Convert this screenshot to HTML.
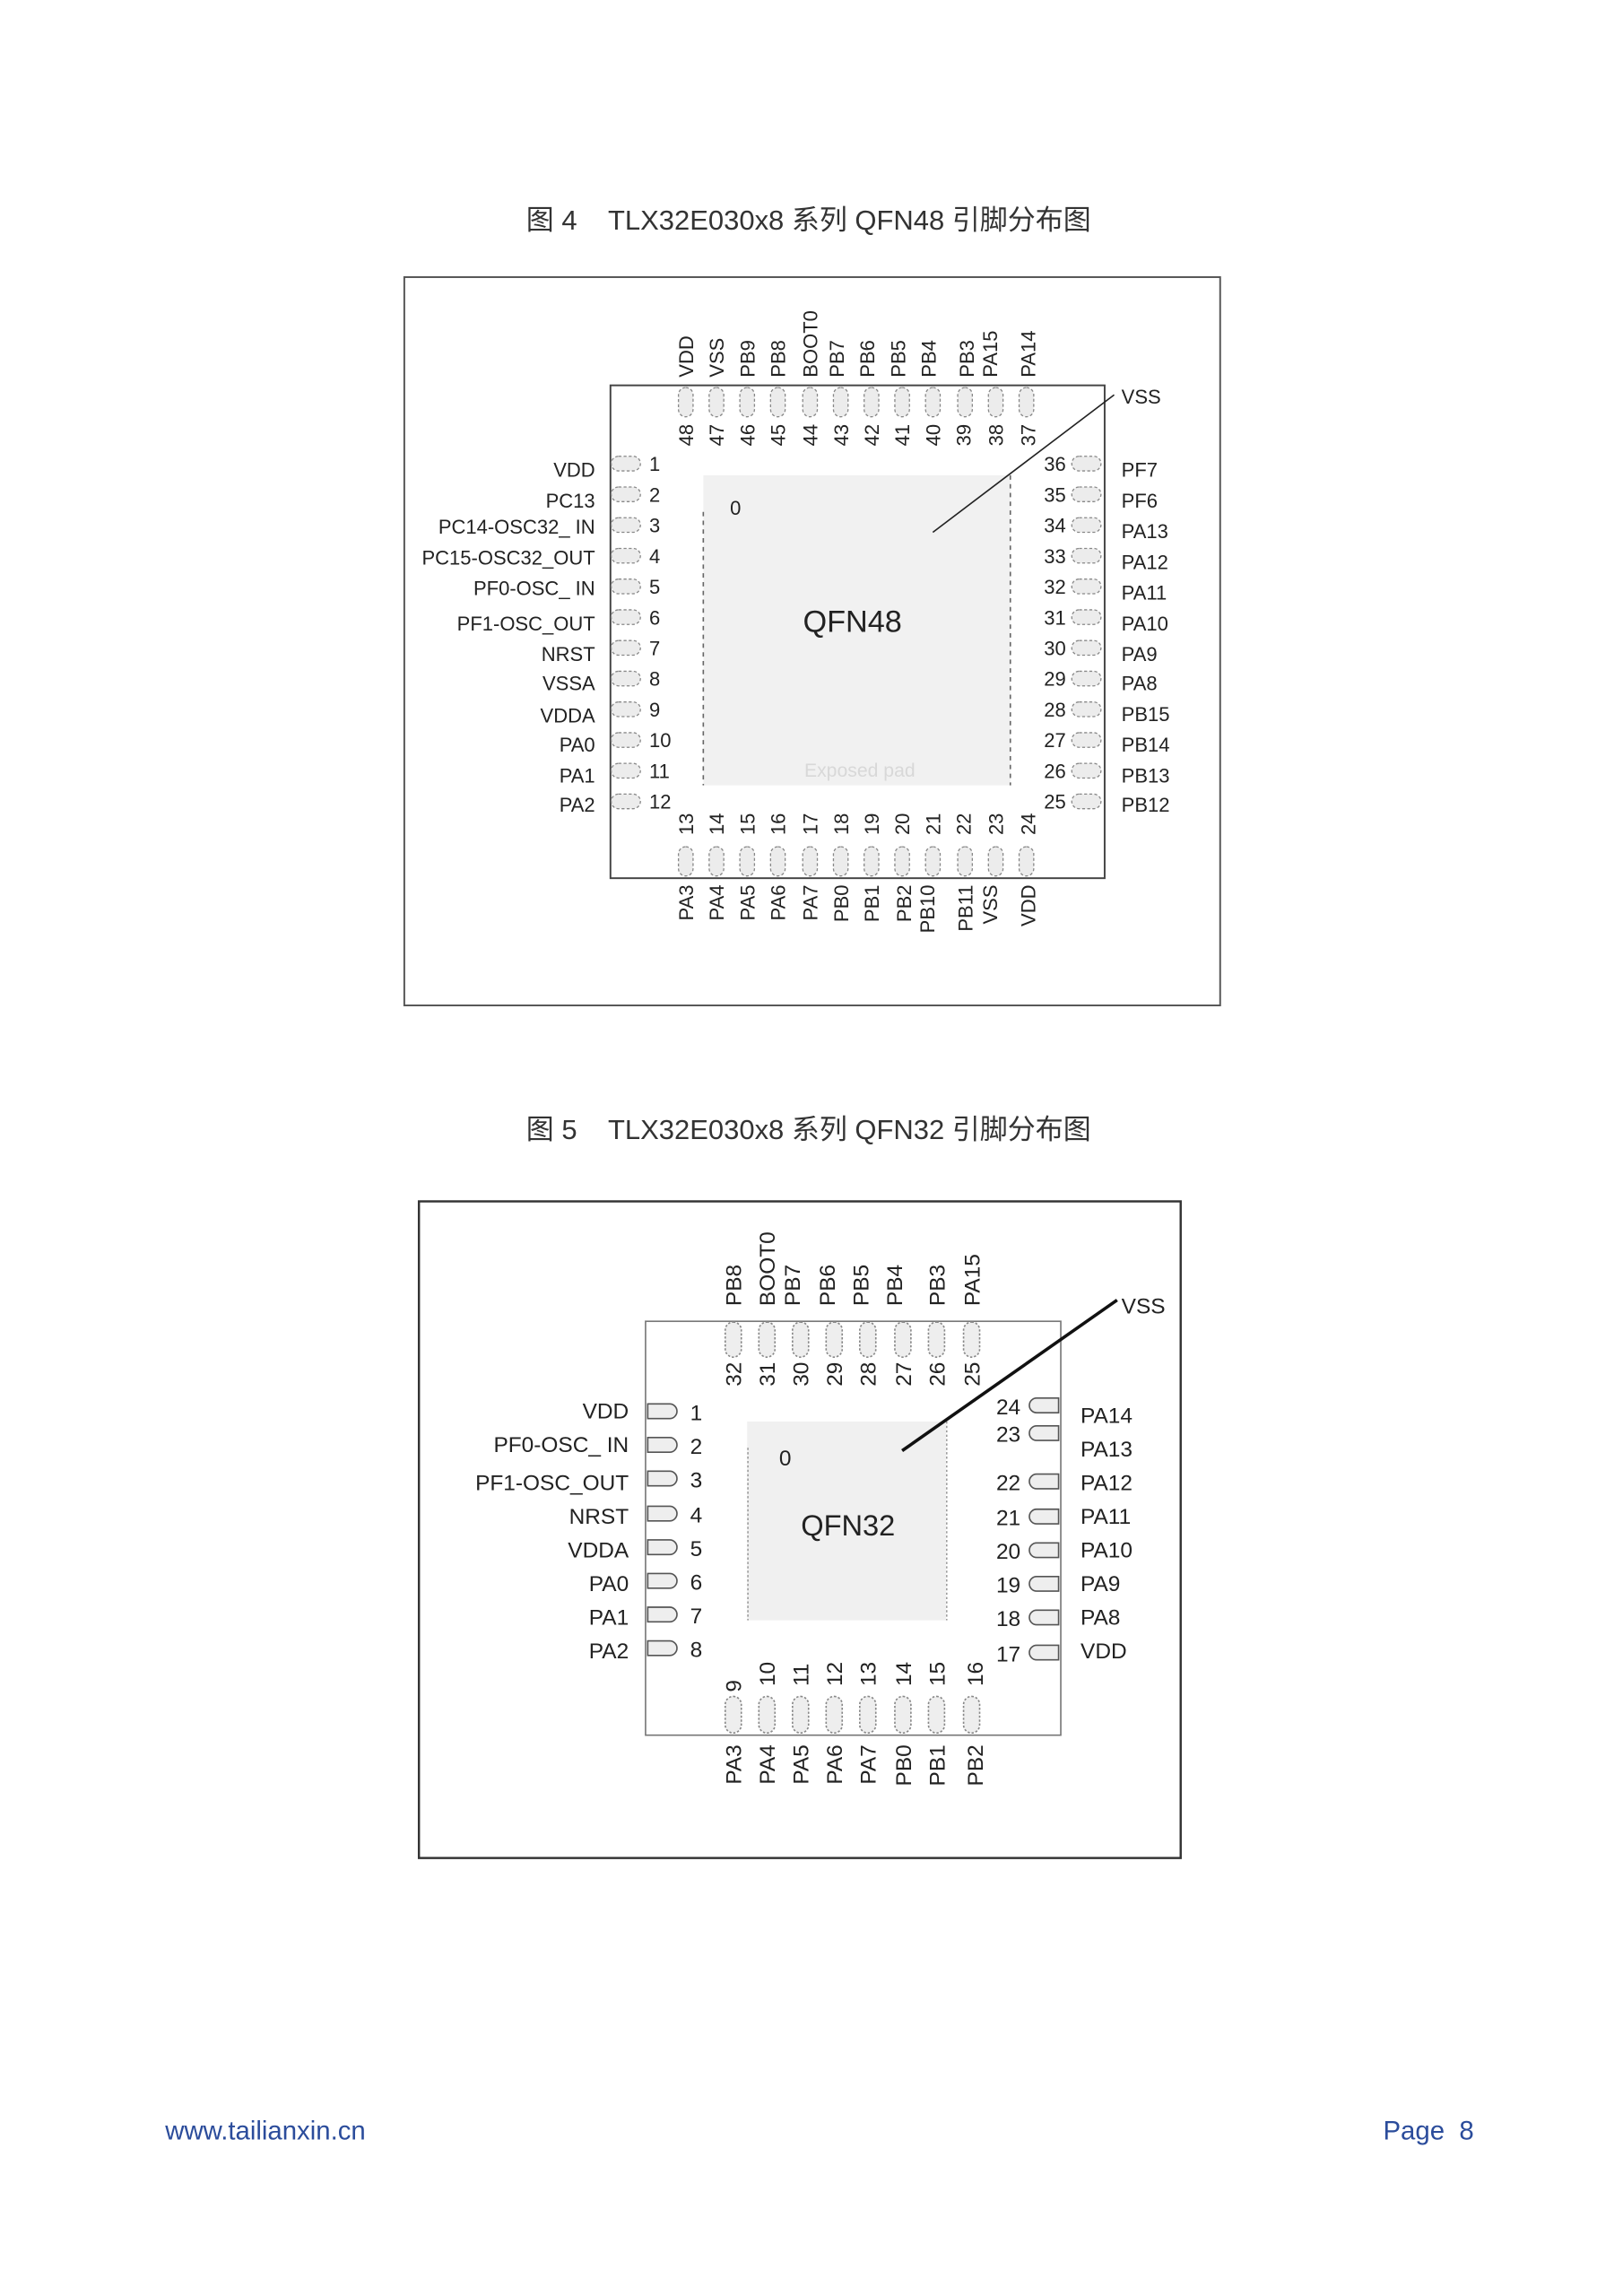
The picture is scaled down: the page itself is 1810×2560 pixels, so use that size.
<!DOCTYPE html>
<html><head><meta charset="utf-8"><style>
html,body{margin:0;padding:0;background:#fff;}
svg{display:block;}
text{font-family:"Liberation Sans","Noto Sans CJK SC",sans-serif;fill:#222;}
.t{font-size:19px;fill:#333;}
.l{font-size:13.5px;}
.n{font-size:13.5px;}
.l2{font-size:15px;}
.n2{font-size:15px;}
.pd{fill:#ececec;stroke:#888;stroke-width:0.8;stroke-dasharray:2,1.5;}
.pd2{fill:#eeeeee;stroke:#555;stroke-width:1;}
</style></head><body>
<svg width="1810" height="2560" viewBox="0 0 1110 1570" xmlns="http://www.w3.org/2000/svg">
<rect width="1110" height="1570" fill="#fff"/>
<text class="t" x="553" y="157" text-anchor="middle" xml:space="preserve">图 4    TLX32E030x8 系列 QFN48 引脚分布图</text>
<rect x="276.5" y="189.5" width="558" height="498" fill="none" stroke="#555" stroke-width="1.2"/>
<rect x="417.5" y="263.5" width="338" height="337" fill="#fff" stroke="#444" stroke-width="1.2"/>
<rect x="481" y="325" width="210" height="212" fill="#f1f1f1"/>
<line x1="481" y1="350" x2="481" y2="537" stroke="#666" stroke-dasharray="3,3"/>
<line x1="691" y1="325" x2="691" y2="537" stroke="#666" stroke-dasharray="3,3"/>
<text x="503" y="352" class="n" text-anchor="middle">0</text>
<text x="583" y="432" font-size="21" text-anchor="middle">QFN48</text>
<text x="588" y="531" font-size="13" fill="#d8d8d8" style="fill:#d8d8d8" text-anchor="middle">Exposed pad</text>
<line x1="638" y1="364" x2="762" y2="270" stroke="#222" stroke-width="1"/>
<text x="767" y="276" class="l">VSS</text>
<g>
<rect class="pd" x="418" y="312" width="20" height="10" rx="5"/><text class="n" x="444" y="322">1</text><text class="l" x="407" y="326" text-anchor="end">VDD</text>
<rect class="pd" x="418" y="333" width="20" height="10" rx="5"/><text class="n" x="444" y="343">2</text><text class="l" x="407" y="347" text-anchor="end">PC13</text>
<rect class="pd" x="418" y="354" width="20" height="10" rx="5"/><text class="n" x="444" y="364">3</text><text class="l" x="407" y="365" text-anchor="end">PC14-OSC32_ IN</text>
<rect class="pd" x="418" y="375" width="20" height="10" rx="5"/><text class="n" x="444" y="385">4</text><text class="l" x="407" y="386" text-anchor="end">PC15-OSC32_OUT</text>
<rect class="pd" x="418" y="396" width="20" height="10" rx="5"/><text class="n" x="444" y="406">5</text><text class="l" x="407" y="407" text-anchor="end">PF0-OSC_ IN</text>
<rect class="pd" x="418" y="417" width="20" height="10" rx="5"/><text class="n" x="444" y="427">6</text><text class="l" x="407" y="431" text-anchor="end">PF1-OSC_OUT</text>
<rect class="pd" x="418" y="438" width="20" height="10" rx="5"/><text class="n" x="444" y="448">7</text><text class="l" x="407" y="452" text-anchor="end">NRST</text>
<rect class="pd" x="418" y="459" width="20" height="10" rx="5"/><text class="n" x="444" y="469">8</text><text class="l" x="407" y="472" text-anchor="end">VSSA</text>
<rect class="pd" x="418" y="480" width="20" height="10" rx="5"/><text class="n" x="444" y="490">9</text><text class="l" x="407" y="494" text-anchor="end">VDDA</text>
<rect class="pd" x="418" y="501" width="20" height="10" rx="5"/><text class="n" x="444" y="511">10</text><text class="l" x="407" y="514" text-anchor="end">PA0</text>
<rect class="pd" x="418" y="522" width="20" height="10" rx="5"/><text class="n" x="444" y="532">11</text><text class="l" x="407" y="535" text-anchor="end">PA1</text>
<rect class="pd" x="418" y="543" width="20" height="10" rx="5"/><text class="n" x="444" y="553">12</text><text class="l" x="407" y="555" text-anchor="end">PA2</text>
</g>
<g>
<rect class="pd" x="733" y="312" width="20" height="10" rx="5"/><text class="n" x="729" y="322" text-anchor="end">36</text><text class="l" x="767" y="326">PF7</text>
<rect class="pd" x="733" y="333" width="20" height="10" rx="5"/><text class="n" x="729" y="343" text-anchor="end">35</text><text class="l" x="767" y="347">PF6</text>
<rect class="pd" x="733" y="354" width="20" height="10" rx="5"/><text class="n" x="729" y="364" text-anchor="end">34</text><text class="l" x="767" y="368">PA13</text>
<rect class="pd" x="733" y="375" width="20" height="10" rx="5"/><text class="n" x="729" y="385" text-anchor="end">33</text><text class="l" x="767" y="389">PA12</text>
<rect class="pd" x="733" y="396" width="20" height="10" rx="5"/><text class="n" x="729" y="406" text-anchor="end">32</text><text class="l" x="767" y="410">PA11</text>
<rect class="pd" x="733" y="417" width="20" height="10" rx="5"/><text class="n" x="729" y="427" text-anchor="end">31</text><text class="l" x="767" y="431">PA10</text>
<rect class="pd" x="733" y="438" width="20" height="10" rx="5"/><text class="n" x="729" y="448" text-anchor="end">30</text><text class="l" x="767" y="452">PA9</text>
<rect class="pd" x="733" y="459" width="20" height="10" rx="5"/><text class="n" x="729" y="469" text-anchor="end">29</text><text class="l" x="767" y="472">PA8</text>
<rect class="pd" x="733" y="480" width="20" height="10" rx="5"/><text class="n" x="729" y="490" text-anchor="end">28</text><text class="l" x="767" y="493">PB15</text>
<rect class="pd" x="733" y="501" width="20" height="10" rx="5"/><text class="n" x="729" y="511" text-anchor="end">27</text><text class="l" x="767" y="514">PB14</text>
<rect class="pd" x="733" y="522" width="20" height="10" rx="5"/><text class="n" x="729" y="532" text-anchor="end">26</text><text class="l" x="767" y="535">PB13</text>
<rect class="pd" x="733" y="543" width="20" height="10" rx="5"/><text class="n" x="729" y="553" text-anchor="end">25</text><text class="l" x="767" y="555">PB12</text>
</g>
<g>
<rect class="pd" x="464" y="265" width="10" height="20" rx="5"/><text class="l" transform="translate(474,258) rotate(-90)">VDD</text><text class="n" transform="translate(474,305) rotate(-90)">48</text>
<rect class="pd" x="485" y="265" width="10" height="20" rx="5"/><text class="l" transform="translate(495,258) rotate(-90)">VSS</text><text class="n" transform="translate(495,305) rotate(-90)">47</text>
<rect class="pd" x="506" y="265" width="10" height="20" rx="5"/><text class="l" transform="translate(516,258) rotate(-90)">PB9</text><text class="n" transform="translate(516,305) rotate(-90)">46</text>
<rect class="pd" x="527" y="265" width="10" height="20" rx="5"/><text class="l" transform="translate(537,258) rotate(-90)">PB8</text><text class="n" transform="translate(537,305) rotate(-90)">45</text>
<rect class="pd" x="549" y="265" width="10" height="20" rx="5"/><text class="l" transform="translate(559,258) rotate(-90)">BOOT0</text><text class="n" transform="translate(559,305) rotate(-90)">44</text>
<rect class="pd" x="570" y="265" width="10" height="20" rx="5"/><text class="l" transform="translate(577,258) rotate(-90)">PB7</text><text class="n" transform="translate(580,305) rotate(-90)">43</text>
<rect class="pd" x="591" y="265" width="10" height="20" rx="5"/><text class="l" transform="translate(598,258) rotate(-90)">PB6</text><text class="n" transform="translate(601,305) rotate(-90)">42</text>
<rect class="pd" x="612" y="265" width="10" height="20" rx="5"/><text class="l" transform="translate(619,258) rotate(-90)">PB5</text><text class="n" transform="translate(622,305) rotate(-90)">41</text>
<rect class="pd" x="633" y="265" width="10" height="20" rx="5"/><text class="l" transform="translate(640,258) rotate(-90)">PB4</text><text class="n" transform="translate(643,305) rotate(-90)">40</text>
<rect class="pd" x="655" y="265" width="10" height="20" rx="5"/><text class="l" transform="translate(666,258) rotate(-90)">PB3</text><text class="n" transform="translate(664,305) rotate(-90)">39</text>
<rect class="pd" x="676" y="265" width="10" height="20" rx="5"/><text class="l" transform="translate(682,258) rotate(-90)">PA15</text><text class="n" transform="translate(686,305) rotate(-90)">38</text>
<rect class="pd" x="697" y="265" width="10" height="20" rx="5"/><text class="l" transform="translate(708,258) rotate(-90)">PA14</text><text class="n" transform="translate(708,305) rotate(-90)">37</text>
</g>
<g>
<rect class="pd" x="464" y="579" width="10" height="20" rx="5"/><text class="n" transform="translate(474,571) rotate(-90)">13</text><text class="l" transform="translate(474,605) rotate(-90)" text-anchor="end">PA3</text>
<rect class="pd" x="485" y="579" width="10" height="20" rx="5"/><text class="n" transform="translate(495,571) rotate(-90)">14</text><text class="l" transform="translate(495,605) rotate(-90)" text-anchor="end">PA4</text>
<rect class="pd" x="506" y="579" width="10" height="20" rx="5"/><text class="n" transform="translate(516,571) rotate(-90)">15</text><text class="l" transform="translate(516,605) rotate(-90)" text-anchor="end">PA5</text>
<rect class="pd" x="527" y="579" width="10" height="20" rx="5"/><text class="n" transform="translate(537,571) rotate(-90)">16</text><text class="l" transform="translate(537,605) rotate(-90)" text-anchor="end">PA6</text>
<rect class="pd" x="549" y="579" width="10" height="20" rx="5"/><text class="n" transform="translate(559,571) rotate(-90)">17</text><text class="l" transform="translate(559,605) rotate(-90)" text-anchor="end">PA7</text>
<rect class="pd" x="570" y="579" width="10" height="20" rx="5"/><text class="n" transform="translate(580,571) rotate(-90)">18</text><text class="l" transform="translate(580,605) rotate(-90)" text-anchor="end">PB0</text>
<rect class="pd" x="591" y="579" width="10" height="20" rx="5"/><text class="n" transform="translate(601,571) rotate(-90)">19</text><text class="l" transform="translate(601,605) rotate(-90)" text-anchor="end">PB1</text>
<rect class="pd" x="612" y="579" width="10" height="20" rx="5"/><text class="n" transform="translate(622,571) rotate(-90)">20</text><text class="l" transform="translate(623,605) rotate(-90)" text-anchor="end">PB2</text>
<rect class="pd" x="633" y="579" width="10" height="20" rx="5"/><text class="n" transform="translate(643,571) rotate(-90)">21</text><text class="l" transform="translate(639,605) rotate(-90)" text-anchor="end">PB10</text>
<rect class="pd" x="655" y="579" width="10" height="20" rx="5"/><text class="n" transform="translate(664,571) rotate(-90)">22</text><text class="l" transform="translate(665,605) rotate(-90)" text-anchor="end">PB11</text>
<rect class="pd" x="676" y="579" width="10" height="20" rx="5"/><text class="n" transform="translate(686,571) rotate(-90)">23</text><text class="l" transform="translate(682,605) rotate(-90)" text-anchor="end">VSS</text>
<rect class="pd" x="697" y="579" width="10" height="20" rx="5"/><text class="n" transform="translate(708,571) rotate(-90)">24</text><text class="l" transform="translate(708,605) rotate(-90)" text-anchor="end">VDD</text>
</g>

<text class="t" x="553" y="779" text-anchor="middle" xml:space="preserve">图 5    TLX32E030x8 系列 QFN32 引脚分布图</text>
<rect x="286.5" y="821.5" width="521" height="449" fill="none" stroke="#333" stroke-width="1.5"/>
<rect x="441.5" y="903.5" width="284" height="283" fill="#fff" stroke="#777" stroke-width="1"/>
<rect x="511" y="972" width="136" height="136" fill="#f0f0f0"/>
<line x1="511.5" y1="990" x2="511.5" y2="1108" stroke="#888" stroke-width="0.8" stroke-dasharray="1.5,1.5"/>
<line x1="647.5" y1="972" x2="647.5" y2="1108" stroke="#888" stroke-width="0.8" stroke-dasharray="1.5,1.5"/>
<text x="537" y="1002" class="n2" text-anchor="middle">0</text>
<text x="580" y="1050" font-size="20" text-anchor="middle">QFN32</text>
<line x1="617" y1="992" x2="764" y2="889" stroke="#111" stroke-width="2.2"/>
<text x="767" y="898" class="l2">VSS</text>
<g>
<path class="pd2" d="M443,960 h15 a5,5 0 0 1 0,10 h-15 z"/><text class="n2" x="472" y="971">1</text><text class="l2" x="430" y="970" text-anchor="end">VDD</text>
<path class="pd2" d="M443,983 h15 a5,5 0 0 1 0,10 h-15 z"/><text class="n2" x="472" y="994">2</text><text class="l2" x="430" y="993" text-anchor="end">PF0-OSC_ IN</text>
<path class="pd2" d="M443,1006 h15 a5,5 0 0 1 0,10 h-15 z"/><text class="n2" x="472" y="1017">3</text><text class="l2" x="430" y="1019" text-anchor="end">PF1-OSC_OUT</text>
<path class="pd2" d="M443,1030 h15 a5,5 0 0 1 0,10 h-15 z"/><text class="n2" x="472" y="1041">4</text><text class="l2" x="430" y="1042" text-anchor="end">NRST</text>
<path class="pd2" d="M443,1053 h15 a5,5 0 0 1 0,10 h-15 z"/><text class="n2" x="472" y="1064">5</text><text class="l2" x="430" y="1065" text-anchor="end">VDDA</text>
<path class="pd2" d="M443,1076 h15 a5,5 0 0 1 0,10 h-15 z"/><text class="n2" x="472" y="1087">6</text><text class="l2" x="430" y="1088" text-anchor="end">PA0</text>
<path class="pd2" d="M443,1099 h15 a5,5 0 0 1 0,10 h-15 z"/><text class="n2" x="472" y="1110">7</text><text class="l2" x="430" y="1111" text-anchor="end">PA1</text>
<path class="pd2" d="M443,1122 h15 a5,5 0 0 1 0,10 h-15 z"/><text class="n2" x="472" y="1133">8</text><text class="l2" x="430" y="1134" text-anchor="end">PA2</text>
</g>
<g>
<path class="pd2" d="M724,956 h-15 a5,5 0 0 0 0,10 h15 z"/><text class="n2" x="698" y="967" text-anchor="end">24</text><text class="l2" x="739" y="973">PA14</text>
<path class="pd2" d="M724,975 h-15 a5,5 0 0 0 0,10 h15 z"/><text class="n2" x="698" y="986" text-anchor="end">23</text><text class="l2" x="739" y="996">PA13</text>
<path class="pd2" d="M724,1008 h-15 a5,5 0 0 0 0,10 h15 z"/><text class="n2" x="698" y="1019" text-anchor="end">22</text><text class="l2" x="739" y="1019">PA12</text>
<path class="pd2" d="M724,1032 h-15 a5,5 0 0 0 0,10 h15 z"/><text class="n2" x="698" y="1043" text-anchor="end">21</text><text class="l2" x="739" y="1042">PA11</text>
<path class="pd2" d="M724,1055 h-15 a5,5 0 0 0 0,10 h15 z"/><text class="n2" x="698" y="1066" text-anchor="end">20</text><text class="l2" x="739" y="1065">PA10</text>
<path class="pd2" d="M724,1078 h-15 a5,5 0 0 0 0,10 h15 z"/><text class="n2" x="698" y="1089" text-anchor="end">19</text><text class="l2" x="739" y="1088">PA9</text>
<path class="pd2" d="M724,1101 h-15 a5,5 0 0 0 0,10 h15 z"/><text class="n2" x="698" y="1112" text-anchor="end">18</text><text class="l2" x="739" y="1111">PA8</text>
<path class="pd2" d="M724,1125 h-15 a5,5 0 0 0 0,10 h15 z"/><text class="n2" x="698" y="1136" text-anchor="end">17</text><text class="l2" x="739" y="1134">VDD</text>
</g>
<rect class="pd2" style="stroke-dasharray:1.5,1.2;stroke:#888" x="496" y="904" width="11" height="24" rx="5.5"/>
<rect class="pd2" style="stroke-dasharray:1.5,1.2;stroke:#888" x="519" y="904" width="11" height="24" rx="5.5"/>
<rect class="pd2" style="stroke-dasharray:1.5,1.2;stroke:#888" x="542" y="904" width="11" height="24" rx="5.5"/>
<rect class="pd2" style="stroke-dasharray:1.5,1.2;stroke:#888" x="565" y="904" width="11" height="24" rx="5.5"/>
<rect class="pd2" style="stroke-dasharray:1.5,1.2;stroke:#888" x="588" y="904" width="11" height="24" rx="5.5"/>
<rect class="pd2" style="stroke-dasharray:1.5,1.2;stroke:#888" x="612" y="904" width="11" height="24" rx="5.5"/>
<rect class="pd2" style="stroke-dasharray:1.5,1.2;stroke:#888" x="635" y="904" width="11" height="24" rx="5.5"/>
<rect class="pd2" style="stroke-dasharray:1.5,1.2;stroke:#888" x="659" y="904" width="11" height="24" rx="5.5"/>
<text class="l2" transform="translate(507,893) rotate(-90)">PB8</text><text class="n2" transform="translate(507,948) rotate(-90)">32</text>
<text class="l2" transform="translate(530,893) rotate(-90)">BOOT0</text><text class="n2" transform="translate(530,948) rotate(-90)">31</text>
<text class="l2" transform="translate(547,893) rotate(-90)">PB7</text><text class="n2" transform="translate(553,948) rotate(-90)">30</text>
<text class="l2" transform="translate(571,893) rotate(-90)">PB6</text><text class="n2" transform="translate(576,948) rotate(-90)">29</text>
<text class="l2" transform="translate(594,893) rotate(-90)">PB5</text><text class="n2" transform="translate(599,948) rotate(-90)">28</text>
<text class="l2" transform="translate(617,893) rotate(-90)">PB4</text><text class="n2" transform="translate(623,948) rotate(-90)">27</text>
<text class="l2" transform="translate(646,893) rotate(-90)">PB3</text><text class="n2" transform="translate(646,948) rotate(-90)">26</text>
<text class="l2" transform="translate(670,893) rotate(-90)">PA15</text><text class="n2" transform="translate(670,948) rotate(-90)">25</text>
<rect class="pd2" style="stroke-dasharray:1.5,1.2;stroke:#888" x="496" y="1160" width="11" height="25" rx="5.5"/>
<rect class="pd2" style="stroke-dasharray:1.5,1.2;stroke:#888" x="519" y="1160" width="11" height="25" rx="5.5"/>
<rect class="pd2" style="stroke-dasharray:1.5,1.2;stroke:#888" x="542" y="1160" width="11" height="25" rx="5.5"/>
<rect class="pd2" style="stroke-dasharray:1.5,1.2;stroke:#888" x="565" y="1160" width="11" height="25" rx="5.5"/>
<rect class="pd2" style="stroke-dasharray:1.5,1.2;stroke:#888" x="588" y="1160" width="11" height="25" rx="5.5"/>
<rect class="pd2" style="stroke-dasharray:1.5,1.2;stroke:#888" x="612" y="1160" width="11" height="25" rx="5.5"/>
<rect class="pd2" style="stroke-dasharray:1.5,1.2;stroke:#888" x="635" y="1160" width="11" height="25" rx="5.5"/>
<rect class="pd2" style="stroke-dasharray:1.5,1.2;stroke:#888" x="659" y="1160" width="11" height="25" rx="5.5"/>
<text class="n2" transform="translate(507,1157) rotate(-90)">9</text><text class="l2" transform="translate(507,1193) rotate(-90)" text-anchor="end">PA3</text>
<text class="n2" transform="translate(530,1153) rotate(-90)">10</text><text class="l2" transform="translate(530,1193) rotate(-90)" text-anchor="end">PA4</text>
<text class="n2" transform="translate(553,1153) rotate(-90)">11</text><text class="l2" transform="translate(553,1193) rotate(-90)" text-anchor="end">PA5</text>
<text class="n2" transform="translate(576,1153) rotate(-90)">12</text><text class="l2" transform="translate(576,1193) rotate(-90)" text-anchor="end">PA6</text>
<text class="n2" transform="translate(599,1153) rotate(-90)">13</text><text class="l2" transform="translate(599,1193) rotate(-90)" text-anchor="end">PA7</text>
<text class="n2" transform="translate(623,1153) rotate(-90)">14</text><text class="l2" transform="translate(623,1193) rotate(-90)" text-anchor="end">PB0</text>
<text class="n2" transform="translate(646,1153) rotate(-90)">15</text><text class="l2" transform="translate(646,1193) rotate(-90)" text-anchor="end">PB1</text>
<text class="n2" transform="translate(672,1153) rotate(-90)">16</text><text class="l2" transform="translate(672,1193) rotate(-90)" text-anchor="end">PB2</text>

<text x="113" y="1463" font-size="18" style="fill:#2b4c9b">www.tailianxin.cn</text>
<text x="1008" y="1463" font-size="18" text-anchor="end" style="fill:#2b4c9b" xml:space="preserve">Page  8</text>
</svg>
</body></html>
